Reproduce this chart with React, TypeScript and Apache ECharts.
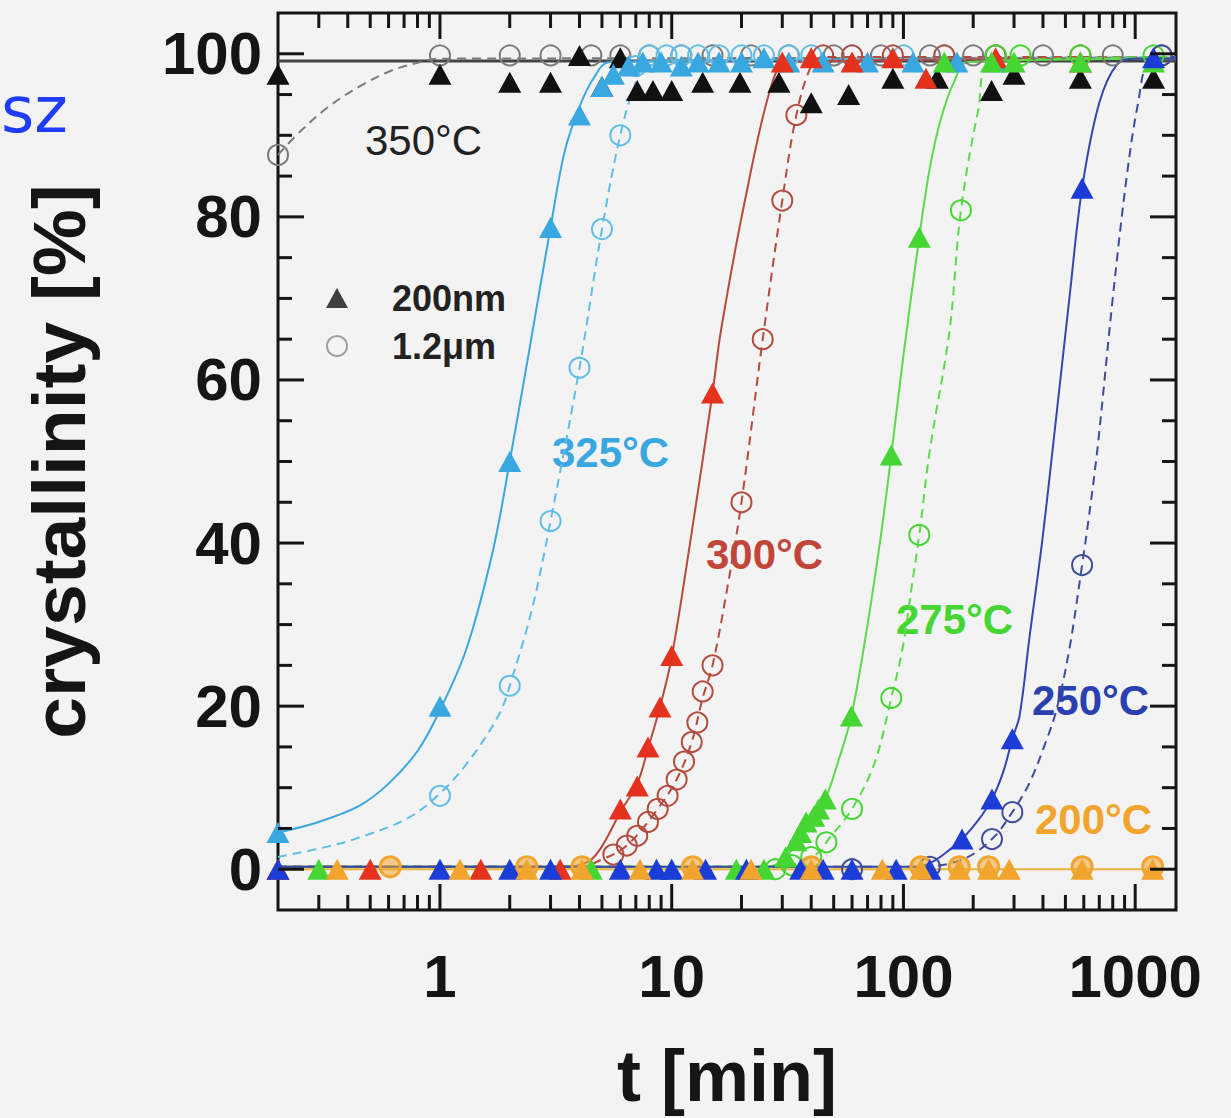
import React, { useEffect, useRef } from "react";
import * as echarts from "echarts";

// ---------- axis ranges & ticks ----------
const X_MIN = 0.2;
const X_MAX = 1500;
const Y_MIN = -5;
const Y_MAX = 105;
const yMajorTicks = [0, 20, 40, 60, 80, 100];
const yMinorTicks = [5, 10, 15, 25, 30, 35, 45, 50, 55, 65, 70, 75, 85, 90, 95];
const xMajorTicks = [1, 10, 100, 1000];
const xMinorTicks = [0.3, 0.4, 0.5, 0.6, 0.7, 0.8, 0.9, 2, 3, 4, 5, 6, 7, 8, 9, 20, 30, 40, 50, 60, 70, 80, 90, 200, 300, 400, 500, 600, 700, 800, 900];

// ---------- 350 °C ----------
const t350nm = [0.2, 1, 2, 3, 4, 5, 6, 7.1, 8.3, 10, 13.6, 19.7, 29, 40, 58, 90, 140, 240, 300, 580, 1200];
const c350nm = [97.5, 97.5, 96.5, 96.5, 99.8, 96, 99.5, 95.5, 95.5, 95.5, 96.5, 96.5, 96.5, 94, 95, 97, 97, 95.5, 97.5, 97, 97];
const t350um = [0.2, 1, 2, 3, 4.5, 6, 8, 11, 15, 22, 32, 50, 80, 130, 200, 400, 800, 1300];
const c350um = [87.6, 99.8, 99.8, 99.8, 99.8, 99.8, 99.8, 99.8, 99.8, 99.8, 99.8, 99.8, 99.8, 99.8, 99.8, 99.8, 99.8, 99.8];
const fit350nmT = [0.2, 1500];
const fit350nmC = [99.1, 99.1];
const fit350umT = [0.2, 0.25, 0.33, 0.45, 0.6, 0.8, 1, 1500];
const fit350umC = [87.6, 90.5, 93.5, 96, 97.8, 98.9, 99.4, 99.5];

// ---------- 325 °C ----------
const t325nm = [0.2, 1, 2, 3, 4, 5, 5.6, 6.5, 7.5, 9, 11, 13, 16, 20, 25, 32, 45, 70, 110, 170, 250];
const c325nm = [4.5, 20, 50, 78.7, 92.5, 96, 97.5, 98.5, 99, 99, 98.5, 99, 99, 99, 99.5, 99, 99, 99, 99, 99, 99];
const t325um = [1, 2, 3, 4, 5, 6, 7, 8, 9.5, 11, 13, 16, 20, 25, 32, 40, 60, 100, 150, 250];
const c325um = [9, 22.5, 42.7, 61.5, 78.5, 90, 98.5, 99.8, 99.8, 99.8, 99.8, 99.8, 99.8, 99.8, 99.8, 99.8, 99.8, 99.8, 99.8, 99.8];
const fit325nmT = [0.2, 0.3, 0.45, 0.6, 0.8, 1, 1.3, 1.69, 2, 2.44, 3, 3.45, 4, 4.6, 5.4, 1500];
const fit325nmC = [4.5, 5.8, 7.8, 10.5, 14.5, 19.5, 27, 39, 50, 64, 78.7, 88, 93.5, 97, 99, 99.4];
const fit325umT = [0.2, 0.33, 0.45, 0.72, 1, 1.35, 1.8, 2, 2.5, 3, 4, 5, 6, 7, 8, 1500];
const fit325umC = [1.5, 2.8, 3.9, 6.2, 9.3, 13.5, 19, 22.5, 32, 42.7, 61.5, 78.5, 90, 96.5, 99, 99.6];

// ---------- 300 °C ----------
const t300nm = [0.2, 0.5, 1.5, 3.3, 6, 7.1, 7.9, 8.9, 10, 15, 30, 40, 60, 90, 125, 250, 580];
const c300nm = [0, 0, 0, 0, 7.4, 10.2, 15, 19.9, 26.2, 58.4, 99, 99.5, 99, 99.5, 97, 99.5, 99];
const t300um = [5.6, 6.4, 7.1, 7.9, 8.7, 9.6, 10.5, 11.3, 12.2, 12.9, 13.6, 15, 20, 24.7, 30, 34.5, 45, 60, 90, 150, 250, 580];
const c300um = [1.8, 2.9, 4.1, 5.8, 7.4, 9, 11, 13.2, 15.6, 18, 21.8, 25, 45, 65, 82, 92.5, 99.8, 99.8, 99.8, 99.8, 99.8, 99.8];
const fit300nmT = [0.2, 3.5, 4.4, 5, 6, 7.1, 7.9, 8.9, 10, 12, 15, 16.3, 20.7, 27.3, 32, 1500];
const fit300nmC = [0.3, 0.3, 1, 2.8, 7, 10.5, 14.8, 19.9, 26, 40, 58.4, 66, 82, 96.7, 99, 99.4];
const fit300umT = [0.2, 4, 5, 6.4, 8.7, 10.5, 12.2, 13.6, 15, 17.5, 20, 24.7, 30, 34.5, 40, 45, 1500];
const fit300umC = [0.3, 0.3, 1.2, 2.9, 7.4, 11, 15.6, 21, 25, 35, 45, 65, 82, 92.5, 98.5, 99.6, 99.6];

// ---------- 275 °C ----------
const t275nm = [0.3, 4.5, 10, 19, 25, 31, 34.4, 36, 38, 41, 43, 46, 59.6, 88.6, 117, 150, 240, 300, 580, 1200];
const c275nm = [0, 0, 0, 0, 0, 1.5, 3.5, 4.5, 5.8, 6.5, 7.4, 8.6, 18.8, 50.8, 77.5, 99, 99, 99, 99, 99];
const t275um = [28, 33, 40, 46.5, 60, 88.6, 117, 177, 250, 320, 580, 1200];
const c275um = [0, 0.5, 1.5, 3.3, 7.4, 21, 41, 80.8, 99.8, 99.8, 99.8, 99.8];
const fit275nmT = [0.2, 25, 30, 35, 40, 46, 52, 59.6, 70, 80, 88.6, 100, 117, 130, 145, 165, 190, 1500];
const fit275nmC = [0.3, 0.3, 1, 3.5, 5.8, 8.6, 13, 18.8, 30, 41, 50.8, 63, 77.5, 86, 92, 96.5, 99, 99.4];
const fit275umT = [0.2, 30, 38, 44.7, 46.5, 60, 75, 88.6, 99, 109, 117, 130, 158, 177, 210, 240, 1500];
const fit275umC = [0.3, 0.3, 1.2, 2.4, 3.3, 7.4, 13, 21, 27, 35, 41, 51.4, 66, 80.8, 93, 99, 99.6];

// ---------- 250 °C ----------
const t250nm = [0.2, 1, 2, 3, 6, 8.6, 10, 14, 21, 36, 45, 60, 93, 130, 179, 241, 295, 590, 1200];
const c250nm = [0, 0, 0, 0, 0, 0, 0, 0, 0, 0, 0, 0, 0, 0, 3.7, 8.6, 16, 83.5, 99.5];
const t250um = [60, 130, 241, 295, 590, 1300];
const c250um = [0, 0.3, 3.7, 7, 37.3, 99.8];
const fit250nmT = [0.2, 115, 135, 160, 179, 210, 241, 270, 295, 317, 350, 396, 440, 520, 590, 700, 840, 1000, 1500];
const fit250nmC = [0.3, 0.3, 1, 2.5, 3.7, 6, 8.6, 12, 16, 18.8, 28.5, 40, 51.4, 70, 83.5, 94, 98.8, 99.4, 99.4];
const fit250umT = [0.2, 120, 180, 241, 295, 350, 410, 458, 520, 590, 630, 690, 800, 920, 1030, 1150, 1500];
const fit250umC = [0.3, 0.3, 1.2, 3.7, 7, 10.6, 15.5, 19.6, 27, 37.3, 43, 52, 70, 85, 94, 99, 99.6];

// ---------- 200 °C ----------
const t200nm = [0.36, 1.22, 2.37, 4.1, 7.3, 12.3, 22, 40, 81, 119, 174, 233, 286, 590, 1190];
const c200nm = [0, 0, 0, 0, 0, 0, 0, 0, 0, 0, 0, 0, 0, 0, 0];
const t200um = [0.61, 2.37, 4.1, 12.3, 40, 119, 174, 233, 590, 1190];
const c200um = [0.3, 0.3, 0.3, 0.3, 0.3, 0.3, 0.3, 0.3, 0.3, 0.3];
const fit200T = [0.2, 1500];
const fit200C = [0, 0];

const tempLabels = ["350°C", "325°C", "300°C", "275°C", "250°C", "200°C"];
const legendNames = ["200nm", "1.2μm"];

const FONT = '"Liberation Sans", Arial, Helvetica, sans-serif';

const pairs = (t: number[], c: number[]) => t.map((v, i) => [v, c[i]]);

function fitLine(name: string, t: number[], c: number[], color: string, dashed: boolean, width = 2) {
  return {
    name,
    type: "line",
    data: pairs(t, c),
    smooth: 0.35,
    showSymbol: false,
    symbol: "none",
    lineStyle: { color, width, type: dashed ? [9, 6] : "solid" },
    z: 2,
    silent: true,
  };
}

function tri(name: string, t: number[], c: number[], color: string) {
  return {
    name,
    type: "scatter",
    data: pairs(t, c),
    symbol: "triangle",
    symbolSize: [23, 21],
    itemStyle: { color, opacity: 1 },
    z: 4,
  };
}

function circ(name: string, t: number[], c: number[], color: string, bw = 2, fill = "rgba(0,0,0,0)") {
  return {
    name,
    type: "scatter",
    data: pairs(t, c),
    symbol: "circle",
    symbolSize: 20,
    itemStyle: { color: fill, borderColor: color, borderWidth: bw, opacity: 1 },
    z: 3,
  };
}

const tickData = [
  ...yMajorTicks.map((v) => [X_MIN, v, 0]),
  ...yMinorTicks.map((v) => [X_MIN, v, 1]),
  ...xMajorTicks.map((v) => [v, Y_MIN, 2]),
  ...xMinorTicks.map((v) => [v, Y_MIN, 3]),
];

export default function App() {
  const ref = useRef<HTMLDivElement>(null);
  useEffect(() => {
    if (!ref.current) return;
    const chart = echarts.init(ref.current, null, { renderer: "svg" });
    const C = {
      black: "#111111",
      grey: "#7a7a7a",
      cyan: "#39a7e0",
      cyanC: "#5fbde6",
      red: "#e4321f",
      redL: "#b8493d",
      redC: "#b34b3f",
      green: "#45d634",
      greenL: "#5bdb4b",
      blue: "#1b3cd6",
      blueL: "#3346b0",
      blueC: "#3f4c99",
      orange: "#f2a52e",
      orangeL: "#e8b43a",
    };
    const option: any = {
      animation: false,
      backgroundColor: "#f3f3f3",
      grid: {
        left: 278,
        right: 55,
        top: 13,
        bottom: 208,
        show: true,
        borderColor: "#151515",
        borderWidth: 3,
        backgroundColor: "transparent",
      },
      legend: {
        orient: "vertical",
        left: 321,
        top: 275,
        itemWidth: 22,
        itemHeight: 20,
        itemGap: 12,
        selectedMode: false,
        data: [
          { name: legendNames[0], icon: "triangle", itemStyle: { color: C.black } },
          { name: legendNames[1], icon: "circle", itemStyle: { color: "rgba(0,0,0,0)", borderColor: "#888", borderWidth: 2 } },
        ],
        textStyle: { fontSize: 36, fontWeight: "bold", color: "#222", fontFamily: FONT, padding: [0, 0, 0, 39] },
      },
      xAxis: {
        type: "log",
        logBase: 10,
        min: X_MIN,
        max: X_MAX,
        axisLine: { show: false },
        axisTick: { show: false },
        splitLine: { show: false },
        minorTick: { show: false },
        axisLabel: {
          margin: 36,
          fontSize: 60,
          fontWeight: "bold",
          color: "#151515",
          fontFamily: FONT,
          showMinLabel: false,
          showMaxLabel: false,
          formatter: (v: number) => {
            const l = Math.log10(v);
            return Math.abs(l - Math.round(l)) < 1e-6 ? String(Math.round(v)) : "";
          },
        },
        name: "t [min]",
        nameLocation: "middle",
        nameGap: 130,
        nameTextStyle: { fontSize: 72, fontWeight: "bold", color: "#151515", fontFamily: FONT },
      },
      yAxis: {
        type: "value",
        min: Y_MIN,
        max: Y_MAX,
        interval: 5,
        axisLine: { show: false },
        axisTick: { show: false },
        splitLine: { show: false },
        axisLabel: {
          margin: 16,
          fontSize: 60,
          fontWeight: "bold",
          color: "#151515",
          fontFamily: FONT,
          formatter: (v: number) => {
            const q = v / 20;
            return v >= 0 && Math.abs(q - Math.round(q)) < 1e-6 ? String(Math.round(v)) : "";
          },
        },
        name: "crystallinity [%]",
        nameLocation: "middle",
        nameGap: 182,
        nameTextStyle: { fontSize: 75, fontWeight: "bold", color: "#151515", fontFamily: FONT },
      },
      graphic: [
        { type: "text", x: 1, y: 110, style: { text: "sz", fontSize: 64, fontFamily: '"DejaVu Sans", sans-serif', fill: "#1f3cff", verticalAlign: "middle", align: "left" } },
        { type: "text", x: 365, y: 140, style: { text: tempLabels[0], fontSize: 42, fontFamily: FONT, fill: "#222", verticalAlign: "middle" } },
        { type: "text", x: 552, y: 452, style: { text: tempLabels[1], fontSize: 42, fontWeight: "bold", fontFamily: FONT, fill: C.cyan, verticalAlign: "middle" } },
        { type: "text", x: 706, y: 554, style: { text: tempLabels[2], fontSize: 42, fontWeight: "bold", fontFamily: FONT, fill: "#c2453a", verticalAlign: "middle" } },
        { type: "text", x: 896, y: 619, style: { text: tempLabels[3], fontSize: 42, fontWeight: "bold", fontFamily: FONT, fill: C.green, verticalAlign: "middle" } },
        { type: "text", x: 1032, y: 700, style: { text: tempLabels[4], fontSize: 42, fontWeight: "bold", fontFamily: FONT, fill: "#2a40b0", verticalAlign: "middle" } },
        { type: "text", x: 1035, y: 819, style: { text: tempLabels[5], fontSize: 42, fontWeight: "bold", fontFamily: FONT, fill: C.orange, verticalAlign: "middle" } },
      ],
      series: [
        // legend dummies
        { name: legendNames[0], type: "scatter", data: [], symbol: "triangle", itemStyle: { color: C.black } },
        { name: legendNames[1], type: "scatter", data: [], symbol: "circle", itemStyle: { color: "rgba(0,0,0,0)", borderColor: "#888", borderWidth: 2 } },
        // fit lines
        fitLine("fit350nm", fit350nmT, fit350nmC, "#444", false, 3),
        fitLine("fit350um", fit350umT, fit350umC, C.grey, true),
        fitLine("fit325nm", fit325nmT, fit325nmC, C.cyan, false),
        fitLine("fit325um", fit325umT, fit325umC, C.cyanC, true),
        fitLine("fit300nm", fit300nmT, fit300nmC, C.redL, false),
        fitLine("fit300um", fit300umT, fit300umC, C.redC, true),
        fitLine("fit275nm", fit275nmT, fit275nmC, C.greenL, false),
        fitLine("fit275um", fit275umT, fit275umC, C.greenL, true),
        fitLine("fit250nm", fit250nmT, fit250nmC, C.blueL, false),
        fitLine("fit250um", fit250umT, fit250umC, C.blueC, true),
        // data points
        circ("350um", t350um, c350um, C.grey),
        tri("350nm", t350nm, c350nm, C.black),
        circ("325um", t325um, c325um, C.cyanC),
        tri("325nm", t325nm, c325nm, C.cyan),
        circ("300um", t300um, c300um, C.redC),
        tri("300nm", t300nm, c300nm, C.red),
        circ("275um", t275um, c275um, C.green),
        tri("275nm", t275nm, c275nm, C.green),
        circ("250um", t250um, c250um, C.blueC),
        tri("250nm", t250nm, c250nm, C.blue),
        fitLine("fit200", fit200T, fit200C, C.orangeL, false),
        circ("200um", t200um, c200um, C.orange, 3, "rgba(242,165,46,0.55)"),
        tri("200nm", t200nm, c200nm, C.orange),
        // frame ticks (inward, all four sides)
        {
          name: "ticks",
          type: "custom",
          data: tickData,
          clip: false,
          silent: true,
          z: 10,
          renderItem: (params: any, api: any) => {
            const cs = params.coordSys;
            const kind = api.value(2);
            const style = { stroke: "#151515", lineWidth: 3 };
            const children: any[] = [];
            if (kind < 2) {
              const p = api.coord([X_MIN, api.value(1)]);
              const len = kind === 0 ? 26 : 14;
              children.push({ type: "line", shape: { x1: cs.x, y1: p[1], x2: cs.x + len, y2: p[1] }, style });
              children.push({ type: "line", shape: { x1: cs.x + cs.width - len, y1: p[1], x2: cs.x + cs.width, y2: p[1] }, style });
            } else {
              const p = api.coord([api.value(0), Y_MIN]);
              const len = kind === 2 ? 26 : 15;
              const yb = cs.y + cs.height;
              children.push({ type: "line", shape: { x1: p[0], y1: yb, x2: p[0], y2: yb - len }, style });
              children.push({ type: "line", shape: { x1: p[0], y1: cs.y, x2: p[0], y2: cs.y + len }, style });
            }
            return { type: "group", children };
          },
        },
      ],
    };
    chart.setOption(option);
    return () => chart.dispose();
  }, []);
  return (
    <div
      ref={ref}
      style={{ position: "fixed", left: 0, top: 0, width: 1231, height: 1118, background: "#f3f3f3" }}
    />
  );
}
